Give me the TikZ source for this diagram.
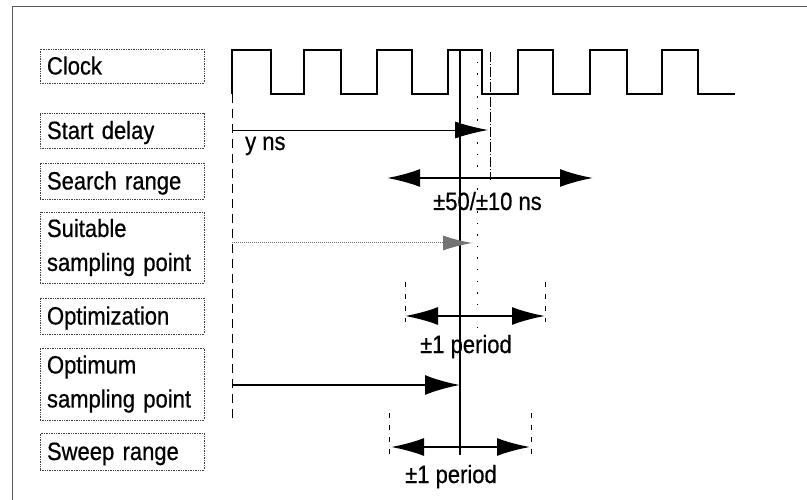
\documentclass[tikz,border=0pt]{standalone}
\usepackage{fontspec}
\setmainfont{Liberation Sans}[FakeStretch=0.88,FakeBold=0.6]
\usetikzlibrary{arrows.meta}
\begin{document}
\begin{tikzpicture}[x=1pt,y=-1pt,
  lab/.style={draw=black!75, densely dotted, line width=0.7pt, minimum width=164pt,
    text width=150pt, inner xsep=7pt, align=left, font=\fontsize{25}{34}\selectfont},
  one/.style={lab, text height=19pt, text depth=2pt},
  txt/.style={font=\fontsize{25}{30}\selectfont, inner sep=0pt, anchor=base west},
  tipA/.style={-{Latex[length=33pt,width=17pt]}},
  tipB/.style={{Latex[length=33pt,width=18pt]}-{Latex[length=33pt,width=18pt]}},
  tick/.style={line width=0.6pt, dash pattern=on 5pt off 7pt},
  wave/.style={line width=2.2pt, line join=miter}
]
\useasboundingbox (0,0) rectangle (807,500);
% frame
\draw[black!65, line width=0.9pt] (12,500) -- (12,6) -- (807,6);

% labels
\node[one, minimum height=34pt] (clk) at (122,66) {Clock};
\node[one, minimum height=35pt] (sd) at (122,130.5) {Start delay};
\node[one, minimum height=36pt] (sr) at (122,181) {Search range};
\node[lab, minimum height=71pt] (ssp) at (122,247.5) {Suitable\\sampling point};
\node[one, minimum height=36pt] (opt) at (122,316) {Optimization};
\node[lab, minimum height=72pt] (osp) at (122,384) {Optimum\\sampling point};
\node[one, minimum height=37pt] (swr) at (122,451.5) {Sweep range};

% clock
\draw[wave] (232,94) -- (232,50) -- (271,50) -- (271,94) -- (304,94) -- (304,50)
  -- (341,50) -- (341,94) -- (377,94) -- (377,50) -- (412,50) -- (412,94)
  -- (448,94) -- (448,50) -- (482,50) -- (482,94) -- (518,94) -- (518,50)
  -- (553,50) -- (553,94) -- (590,94) -- (590,50) -- (627,50) -- (627,94)
  -- (662,94) -- (662,50) -- (698,50) -- (698,94) -- (735,94);

% reference verticals
\coordinate (v0t) at (232,94);  \coordinate (v0b) at (232,420);
\coordinate (mt) at (460,50);   \coordinate (mb) at (460,455);
\coordinate (dt) at (477,62);   \coordinate (db) at (477,330);
\coordinate (et) at (490,52);   \coordinate (eb) at (490,180);
\draw[line width=0.7pt, dash pattern=on 9pt off 6pt] (v0t) -- (v0b);
\draw[line width=2pt] (mt) -- (mb);
\draw[line width=1pt, dash pattern=on 1.5pt off 10pt] (dt) -- (db);
\draw[line width=0.6pt, dash pattern=on 10pt off 2pt on 1pt off 2pt] (et) -- (eb);

% start delay
\coordinate (sda) at (232,130); \coordinate (sdb) at (488,130);
\draw[line width=0.8pt, tipA] (sda) -- (sdb);
\node[txt] (yns) at (245,150) {y ns};

% search range
\coordinate (sra) at (387,178); \coordinate (srb) at (593,178);
\draw[line width=2pt, tipB] (sra) -- (srb);
\node[txt] (srl) at (433,210) {±50/±10 ns};

% suitable sampling point
\coordinate (ssa) at (232,243); \coordinate (ssb) at (472,243);
\draw[black!55, line width=1pt, densely dotted,
  -{Latex[length=29pt,width=15pt,fill=black!55]}] (ssa) -- (ssb);

% optimization
\coordinate (o1t) at (405,282); \coordinate (o1b) at (405,322);
\coordinate (o2t) at (545,282); \coordinate (o2b) at (545,322);
\draw[tick] (o1t) -- (o1b);
\draw[tick] (o2t) -- (o2b);
\draw[line width=2pt, tipB] (405,316) -- (545,316);
\node[txt] (opl) at (420,353) {±1 period};

% optimum sampling point
\coordinate (osa) at (232,385); \coordinate (osb) at (460,385);
\draw[line width=2.5pt, -{Latex[length=35pt,width=20pt]}] (osa) -- (osb);

% sweep range
\coordinate (w1t) at (389,413); \coordinate (w1b) at (389,455);
\coordinate (w2t) at (531,413); \coordinate (w2b) at (531,455);
\draw[tick] (w1t) -- (w1b);
\draw[tick] (w2t) -- (w2b);
\draw[line width=2pt, tipB] (391,447) -- (530,447);
\node[txt] (swl) at (405,483) {±1 period};
\end{tikzpicture}
\end{document}
